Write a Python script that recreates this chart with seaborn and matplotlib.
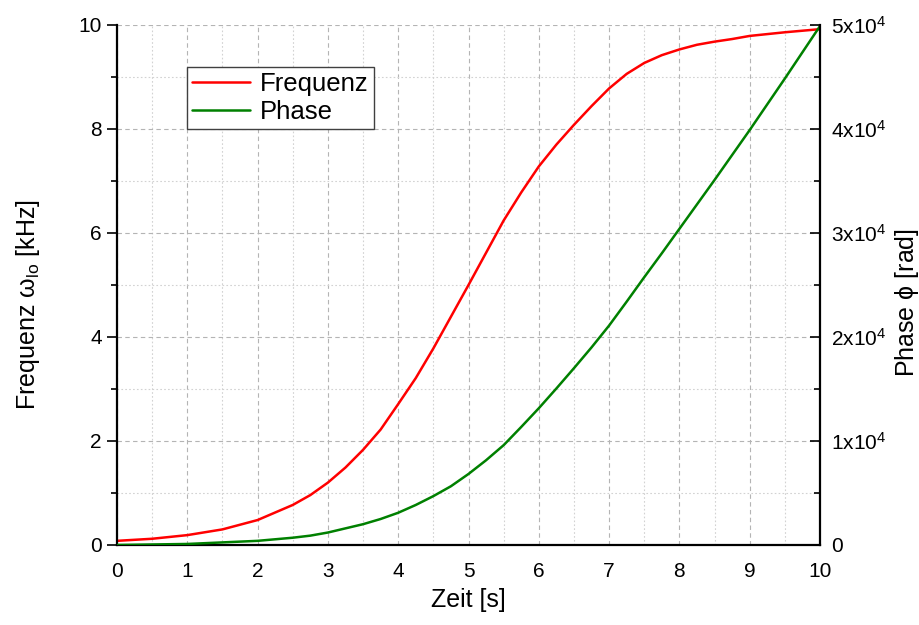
import numpy as np
import pandas as pd
import matplotlib
matplotlib.use("Agg")
import matplotlib.pyplot as plt
from matplotlib.ticker import MultipleLocator, FuncFormatter
import seaborn as sns

# Sweep over time: local-oscillator frequency and accumulated phase
zeit = [0.0, 0.5, 1.0, 1.5, 2.0, 2.5, 2.75, 3.0, 3.25, 3.5, 3.75, 4.0,
        4.25, 4.5, 4.75, 5.0, 5.25, 5.5, 5.75, 6.0, 6.25, 6.5, 6.75, 7.0,
        7.25, 7.5, 7.75, 8.0, 8.25, 8.5, 8.75, 9.0, 9.5, 10.0]
frequenz_khz = [0.08, 0.12, 0.19, 0.30, 0.48, 0.77, 0.96, 1.20, 1.49, 1.83, 2.22, 2.71,
                3.21, 3.78, 4.39, 5.00, 5.62, 6.24, 6.78, 7.28, 7.70, 8.08, 8.44, 8.78,
                9.06, 9.27, 9.42, 9.53, 9.62, 9.68, 9.73, 9.79, 9.86, 9.92]
phase_rad = [0, 50, 100, 250, 400, 700, 900, 1200, 1600, 2000, 2500, 3100,
             3850, 4700, 5650, 6830, 8150, 9600, 11350, 13150, 15050, 17000, 19000, 21100,
             23400, 25750, 28050, 30400, 32750, 35100, 37500, 39900, 44850, 49900]

df = pd.DataFrame({"Zeit": zeit, "Frequenz": frequenz_khz, "Phase": phase_rad})

sns.set_theme(style="white")
plt.rcParams["font.family"] = ["Liberation Sans", "DejaVu Sans"]
plt.rcParams["mathtext.fontset"] = "custom"
plt.rcParams["mathtext.rm"] = "Liberation Sans"
plt.rcParams["mathtext.it"] = "Liberation Sans:italic"
plt.rcParams["mathtext.bf"] = "Liberation Sans:bold"
plt.rcParams["text.color"] = "black"
plt.rcParams["axes.labelcolor"] = "black"

fig = plt.figure(figsize=(9.2, 6.25), dpi=100)
ax = fig.add_axes([117 / 920, 1 - 545 / 625, (820 - 117) / 920, (545 - 25) / 625])
ax2 = ax.twinx()

sns.lineplot(data=df, x="Zeit", y="Frequenz", ax=ax, color="#ff0000",
             linewidth=1.8, label="Frequenz", legend=False)
sns.lineplot(data=df, x="Zeit", y="Phase", ax=ax2, color="#008000",
             linewidth=1.8, label="Phase", legend=False)

ax.set_xlim(0, 10)
ax.set_ylim(0, 10)
ax2.set_ylim(0, 5e4)

ax.xaxis.set_major_locator(MultipleLocator(1))
ax.xaxis.set_minor_locator(MultipleLocator(0.5))
ax.yaxis.set_major_locator(MultipleLocator(2))
ax.yaxis.set_minor_locator(MultipleLocator(1))
ax2.yaxis.set_major_locator(MultipleLocator(1e4))
ax2.yaxis.set_minor_locator(MultipleLocator(5e3))


def sci_label(v, pos):
    if v == 0:
        return "0"
    return r"%dx10$^{4}$" % round(v / 1e4)


ax2.yaxis.set_major_formatter(FuncFormatter(sci_label))

# Grid: dashed major lines, dotted minor lines
ax.grid(True, which="major", color="#b4b4b4", linestyle=(0, (4, 3)), linewidth=0.8)
ax.grid(True, which="minor", color="#d2d2d2", linestyle=(0, (1.5, 2)), linewidth=0.8)
ax.set_axisbelow(True)

for s in ["top", "right"]:
    ax.spines[s].set_visible(False)
for s in ["top", "left", "bottom"]:
    ax2.spines[s].set_visible(False)
for sp in [ax.spines["left"], ax.spines["bottom"], ax2.spines["right"]]:
    sp.set_linewidth(1.6)
    sp.set_color("black")

ax.tick_params(axis="both", which="major", direction="out", length=7, width=1.2,
               color="black", labelsize=15, pad=4, labelcolor="black")
ax.tick_params(axis="both", which="minor", direction="out", length=4, width=1.2,
               color="black")
ax.tick_params(axis="x", which="major", pad=5)
ax2.tick_params(axis="y", which="major", direction="in", length=7, width=1.2,
                color="black", labelsize=15, pad=8, labelcolor="black")
ax2.tick_params(axis="y", which="minor", direction="in", length=4, width=1.2,
                color="black")

ax.set_xlabel("Zeit [s]", fontsize=18)
ax.set_ylabel(r"Frequenz $\mathrm{\omega}_{\mathrm{lo}}$ [kHz]", fontsize=18)
ax2.set_ylabel(r"Phase $\mathrm{\phi}$ [rad]", fontsize=18)
ax.xaxis.set_label_coords(0.5, -0.083)
ax.yaxis.set_label_coords(-0.107, 0.462)
ax2.yaxis.set_label_coords(1.104, 0.467)

handles = ax.get_lines()[:1] + ax2.get_lines()[:1]
leg = ax.legend(handles, ["Frequenz", "Phase"], loc="upper left",
                bbox_to_anchor=(0.0996, 0.92), fontsize=18.5, frameon=True,
                fancybox=False, edgecolor="#404040", framealpha=1,
                handlelength=2.25, handletextpad=0.4, borderpad=0.2,
                labelspacing=0.15, borderaxespad=0)
leg.get_frame().set_linewidth(1.0)

fig.savefig("out.png", dpi=100)
